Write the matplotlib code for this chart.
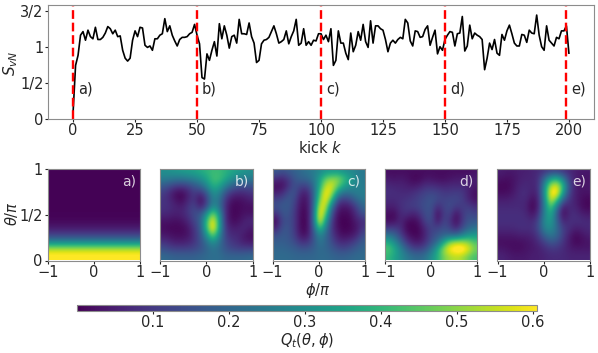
import numpy as np
import matplotlib
matplotlib.use('Agg')
import matplotlib.pyplot as plt

entropy = [0.10, 0.75, 0.89, 1.17, 1.22, 1.10, 1.24, 1.15, 1.12, 1.28,
           1.11, 1.11, 1.14, 1.20, 1.29, 1.26, 1.19, 1.24, 1.15, 1.16,
           0.96, 0.85, 0.81, 0.85, 1.10, 1.23, 1.15, 1.28, 1.27, 1.03,
           1.00, 1.02, 0.96, 1.12, 1.12, 1.17, 1.19, 1.40, 1.22, 1.30,
           1.17, 1.09, 1.02, 1.11, 1.14, 1.14, 1.15, 1.19, 1.21, 1.32,
           1.17, 1.05, 0.58, 0.56, 0.91, 0.82, 0.96, 1.08, 0.88, 1.33,
           1.12, 1.30, 1.17, 0.99, 1.15, 1.17, 1.06, 1.39, 1.19, 1.19,
           1.18, 1.34, 1.15, 1.06, 0.79, 0.82, 1.05, 1.10, 1.11, 1.14,
           1.22, 1.30, 1.19, 1.06, 1.08, 1.11, 1.23, 1.05, 1.15, 1.23,
           1.39, 1.03, 1.06, 1.26, 1.03, 1.08, 1.03, 1.10, 1.09, 1.19,
           1.19, 1.11, 1.17, 1.08, 1.26, 0.75, 0.82, 1.23, 1.06, 1.06,
           0.92, 0.83, 1.20, 0.94, 1.03, 1.22, 1.10, 1.32, 1.08, 1.00,
           1.37, 1.06, 1.30, 1.30, 1.26, 1.24, 1.11, 0.94, 1.06, 1.10,
           1.06, 1.11, 1.14, 1.12, 1.39, 1.34, 1.09, 1.02, 1.23, 1.22,
           1.14, 1.15, 1.25, 1.30, 1.03, 1.14, 1.24, 0.91, 1.01, 0.96,
           1.11, 1.17, 1.22, 1.21, 1.02, 1.19, 1.20, 1.43, 0.95, 1.02,
           1.31, 1.12, 1.20, 1.17, 1.15, 1.11, 0.69, 0.85, 1.06, 0.97,
           1.11, 0.92, 0.89, 1.18, 1.10, 1.23, 1.31, 1.19, 1.06, 1.02,
           1.02, 1.18, 1.17, 1.07, 1.24, 1.20, 1.19, 1.45, 1.17, 1.01,
           0.96, 1.30, 1.10, 1.06, 1.02, 1.14, 1.12, 1.23, 1.23, 1.30,
           0.92]
kicks = np.arange(len(entropy))
snapshot_kicks = [0, 50, 100, 150, 199]
snapshot_labels = ['a)', 'b)', 'c)', 'd)', 'e)']
label_kicks = [2, 52, 102, 152, 201]

# husimi grids, rows go from theta=pi (top) to theta=0, columns phi=-pi..pi
husimi_a = [[.003], [.003], [.003], [.003], [.003], [.003], [.003], [.003], [.003], [.004], [.005],
            [.008], [.02], [.04], [.08], [.14], [.24], [.38], [.52], [.60], [.61]]
husimi_b = [[.30, .31, .32, .33, .34, .35, .37, .39, .41, .41, .39, .36, .34, .32, .30],
            [.26, .25, .24, .24, .25, .27, .30, .35, .42, .42, .37, .31, .27, .25, .25],
            [.17, .14, .11, .10, .12, .16, .20, .28, .38, .36, .27, .20, .16, .15, .15],
            [.11, .07, .02, .01, .05, .11, .08, .16, .30, .28, .16, .09, .07, .07, .09],
            [.09, .07, .03, .01, .06, .10, .01, .10, .26, .24, .10, .03, .02, .03, .05],
            [.09, .08, .06, .05, .09, .13, .06, .13, .30, .24, .08, .01, .01, .02, .02],
            [.07, .06, .05, .06, .09, .14, .16, .30, .50, .34, .08, .01, .01, .03, .03],
            [.03, .03, .02, .03, .06, .12, .18, .40, .62, .38, .08, .02, .02, .05, .07],
            [.02, .01, .01, .01, .03, .09, .16, .40, .64, .38, .10, .05, .05, .07, .04],
            [.04, .03, .02, .02, .03, .08, .15, .30, .48, .30, .12, .07, .07, .04, .02],
            [.09, .07, .05, .05, .06, .09, .14, .22, .30, .24, .14, .10, .08, .05, .04],
            [.15, .13, .12, .12, .12, .13, .15, .19, .23, .21, .16, .13, .12, .12, .12],
            [.21, .20, .19, .19, .19, .19, .20, .21, .22, .22, .20, .20, .20, .20, .21]]
husimi_c = [[.17, .15, .17, .19, .21, .23, .25, .28, .31, .32, .32, .30, .28, .26, .24],
            [.08, .06, .10, .16, .19, .20, .24, .33, .46, .50, .50, .42, .34, .28, .24],
            [.02, .02, .08, .15, .12, .12, .20, .36, .55, .58, .46, .35, .30, .27, .25],
            [.05, .07, .14, .16, .06, .05, .17, .42, .62, .54, .30, .22, .23, .26, .26],
            [.12, .14, .17, .13, .03, .03, .16, .48, .62, .40, .13, .10, .13, .20, .24],
            [.15, .17, .17, .11, .02, .02, .16, .58, .56, .22, .05, .03, .05, .12, .20],
            [.08, .15, .16, .10, .01, .01, .17, .64, .46, .14, .02, .01, .02, .08, .15],
            [.01, .13, .15, .10, .01, .01, .17, .62, .34, .10, .01, .00, .01, .05, .08],
            [.06, .15, .16, .10, .01, .01, .15, .44, .26, .09, .02, .00, .01, .03, .10],
            [.14, .17, .16, .11, .03, .03, .14, .28, .21, .11, .04, .02, .03, .06, .14],
            [.18, .18, .17, .14, .09, .09, .15, .24, .20, .14, .08, .07, .09, .13, .18],
            [.20, .20, .19, .18, .16, .16, .18, .21, .20, .17, .14, .13, .15, .18, .20],
            [.21, .21, .21, .20, .20, .20, .20, .21, .21, .20, .19, .19, .20, .21, .21]]
husimi_d = [[.02, .02, .02, .02, .02, .02, .02, .02, .02, .02, .02, .02, .02, .02, .03],
            [.04, .03, .04, .03, .01, .01, .03, .03, .02, .02, .03, .04, .04, .05, .05],
            [.07, .06, .06, .05, .04, .05, .08, .08, .07, .06, .07, .07, .07, .06, .04],
            [.08, .08, .07, .07, .08, .10, .12, .13, .12, .10, .10, .11, .10, .05, .02],
            [.07, .07, .08, .09, .10, .12, .14, .16, .13, .12, .13, .13, .11, .06, .03],
            [.05, .05, .08, .10, .11, .12, .15, .15, .07, .12, .14, .10, .11, .11, .08],
            [.02, .01, .07, .08, .05, .08, .14, .15, .01, .11, .12, .02, .10, .14, .12],
            [.02, .02, .07, .02, .01, .03, .12, .14, .03, .13, .09, .01, .10, .16, .16],
            [.10, .11, .08, .01, .00, .01, .07, .12, .12, .15, .12, .06, .14, .20, .23],
            [.24, .20, .12, .04, .01, .01, .06, .13, .16, .19, .20, .20, .26, .32, .33],
            [.38, .30, .20, .10, .05, .04, .08, .15, .22, .36, .50, .54, .54, .50, .44],
            [.44, .38, .28, .19, .13, .12, .15, .23, .36, .52, .62, .66, .66, .58, .48],
            [.40, .35, .30, .25, .22, .21, .23, .30, .38, .48, .52, .54, .52, .46, .42]]
husimi_e = [[.05, .04, .04, .05, .05, .06, .07, .09, .11, .11, .09, .07, .05, .04, .04],
            [.03, .02, .03, .05, .06, .06, .08, .20, .34, .38, .26, .10, .05, .03, .03],
            [.01, .01, .03, .06, .07, .06, .08, .28, .54, .58, .40, .14, .05, .03, .04],
            [.02, .02, .04, .07, .08, .05, .07, .30, .62, .64, .34, .12, .05, .03, .03],
            [.05, .05, .06, .07, .07, .02, .05, .27, .58, .44, .18, .09, .05, .02, .01],
            [.07, .07, .07, .07, .06, .00, .05, .26, .46, .24, .04, .07, .06, .02, .01],
            [.08, .08, .08, .08, .07, .03, .08, .27, .38, .17, .01, .07, .08, .05, .04],
            [.08, .08, .08, .08, .08, .07, .12, .29, .34, .19, .06, .08, .08, .08, .07],
            [.07, .07, .07, .08, .08, .08, .13, .27, .30, .21, .11, .08, .05, .06, .07],
            [.04, .04, .04, .05, .05, .06, .10, .19, .24, .20, .11, .05, .01, .03, .05],
            [.02, .02, .02, .02, .03, .04, .07, .11, .16, .14, .09, .04, .01, .02, .03],
            [.04, .03, .02, .02, .03, .04, .05, .07, .09, .09, .07, .05, .04, .04, .04],
            [.06, .05, .04, .04, .04, .05, .05, .06, .07, .07, .07, .06, .06, .06, .06]]
panels = [husimi_a, husimi_b, husimi_c, husimi_d, husimi_e]

W, H = 598, 353
spine_col = '#8c8c8c'
plt.rcParams['font.size'] = 10
plt.rcParams['mathtext.fontset'] = 'dejavusans'
plt.rcParams['axes.edgecolor'] = spine_col
plt.rcParams['xtick.color'] = '#262626'
plt.rcParams['ytick.color'] = '#262626'
plt.rcParams['text.color'] = '#262626'
plt.rcParams['axes.labelcolor'] = '#262626'


def box(x0, y0, x1, y1):
    return [x0 / W, 1 - y1 / H, (x1 - x0) / W, (y1 - y0) / H]


fig = plt.figure(figsize=(W / 100, H / 100), dpi=100)

ax = fig.add_axes(box(48.3, 5, 593.7, 119.3))
ax.plot(kicks, entropy, color='k', lw=1.2)
for k, lab, lk in zip(snapshot_kicks, snapshot_labels, label_kicks):
    ax.axvline(k, color='r', ls='--', lw=1.7)
    ax.text(lk, 0.42, lab, fontsize=10.5, va='center', ha='left')
ax.set_xlim(-10, 210)
ax.set_ylim(0, 1.59)
ax.set_xticks(np.arange(0, 201, 25))
ax.set_yticks([0, 0.5, 1, 1.5])
ax.set_yticklabels(['0', '1/2', '1', '3/2'])
ax.tick_params(labelsize=10.5, length=2, pad=1.5)
ax.tick_params(axis='x', pad=0.5)
fig.text(11 / W, 1 - 63 / H, r'$S_{vN}$', rotation=90, ha='center', va='center', fontsize=11)
fig.text(320 / W, 1 - 148 / H, r'kick $k$', ha='center', va='center', fontsize=10.5)

lefts = [47.7, 160.3, 272.5, 385, 497.5]
for i, (grid, lab) in enumerate(zip(panels, snapshot_labels)):
    a = fig.add_axes(box(lefts[i], 169, lefts[i] + 92.3, 260.5))
    im = a.imshow(grid, extent=(-1, 1, 0, 1), aspect='auto', cmap='viridis',
                  vmin=0, vmax=0.605, interpolation='bicubic')
    a.set_xticks([-1, 0, 1])
    a.set_yticks([0, 0.5, 1])
    if i == 0:
        a.set_yticklabels(['0', '1/2', '1'])
    else:
        a.set_yticks([])
    a.tick_params(labelsize=10.5, length=2, pad=1.5)
    a.text(0.61, 0.86, lab, color='white', alpha=0.8, fontsize=10, va='center')
fig.text(11 / W, 1 - 214 / H, r'$\theta/\pi$', rotation=90, ha='center', va='center', fontsize=10.5)
fig.text(318 / W, 1 - 290 / H, r'$\phi/\pi$', ha='center', va='center', fontsize=10.5)

cax = fig.add_axes(box(77, 305, 536.7, 311))
cb = fig.colorbar(im, cax=cax, orientation='horizontal')
cb.set_ticks([0.1, 0.2, 0.3, 0.4, 0.5, 0.6])
cb.ax.tick_params(labelsize=10.5, length=2, pad=1)
cb.outline.set_edgecolor(spine_col)
fig.text(307 / W, 1 - 341 / H, r'$Q_t(\theta,\phi)$', ha='center', va='center', fontsize=10.5)

fig.savefig('out.png', dpi=100)
